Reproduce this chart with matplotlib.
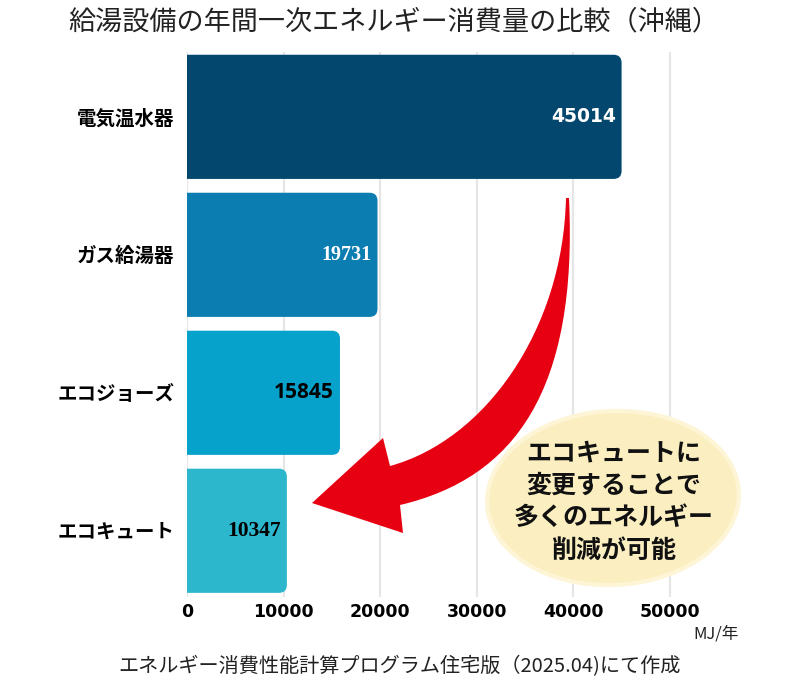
import matplotlib
matplotlib.use("Agg")
import matplotlib.pyplot as plt
from matplotlib.patches import FancyBboxPatch, Ellipse, PathPatch
from matplotlib.path import Path

plt.rcParams['font.family'] = ['Noto Sans CJK JP', 'DejaVu Sans']

categories = ["電気温水器", "ガス給湯器", "エコジョーズ", "エコキュート"]
values = [45014, 19731, 15845, 10347]
colors = ["#03476f", "#0b7db1", "#07a2cb", "#2db7cd"]
label_colors = ["white", "white", "black", "black"]
label_fonts = ["DejaVu Sans", "Liberation Serif", "Open Sans", "Liberation Serif"]
label_sizes = [13.5, 14.5, 15, 15.5]
xticks = [0, 10000, 20000, 30000, 40000, 50000]
title = "給湯設備の年間一次エネルギー消費量の比較（沖縄）"
footer = "エネルギー消費性能計算プログラム住宅版（2025.04)にて作成"
unit = "MJ/年"
callout = "エコキュートに\n変更することで\n多くのエネルギー\n削減が可能"

W, H = 800, 689
fig = plt.figure(figsize=(W / 100, H / 100), dpi=100)
fig.patch.set_facecolor("white")

ax_l, ax_r, ax_t, ax_b = 187, 718, 52, 597
ax = fig.add_axes([ax_l / W, 1 - ax_b / H, (ax_r - ax_l) / W, (ax_b - ax_t) / H])
xmax = 55000
ax.set_xlim(0, xmax)
ax.set_ylim(3.48, -0.47)
for s in ax.spines.values():
    s.set_visible(False)
ax.set_xticks(xticks)
ax.set_xticklabels([str(t) for t in xticks], fontsize=12.5, fontweight="bold",
                   family="DejaVu Sans")
ax.set_yticks(range(len(categories)))
ax.set_yticklabels(categories, fontsize=14, fontweight="bold")
ax.tick_params(axis="both", length=0)
ax.tick_params(axis="x", pad=4)
ax.tick_params(axis="y", pad=9)
ax.grid(axis="x", color="#e6e6e6", linewidth=1.6)
ax.set_axisbelow(True)

px_x = xmax / (ax_r - ax_l)          # data per pixel in x
px_y = (3.48 + 0.47) / (ax_b - ax_t)  # data per pixel in y
r = 8 * px_x
bh = 0.9
for i, (v, c) in enumerate(zip(values, colors)):
    p = FancyBboxPatch((-3 * r, i - bh / 2), v + 3 * r, bh,
                       boxstyle=f"round,pad=0,rounding_size={r}",
                       mutation_aspect=px_y / px_x,
                       facecolor=c, edgecolor="none", zorder=3)
    ax.add_patch(p)
    ax.text(v - 6 * px_x, i, str(v), ha="right", va="center",
            color=label_colors[i], fontsize=label_sizes[i], fontweight="bold",
            family=label_fonts[i], zorder=4)

ax.text(1.04, -0.052, unit, transform=ax.transAxes, ha="right", va="top",
        fontsize=12, color="#222222")

# overlay in pixel coordinates
ov = fig.add_axes([0, 0, 1, 1])
ov.set_xlim(0, W)
ov.set_ylim(H, 0)
ov.axis("off")
ov.patch.set_alpha(0)

# callout ellipse
ov.add_patch(Ellipse((613, 498), 252, 174, angle=-3, facecolor="#fbefc2",
                     edgecolor="#fdf5d6", linewidth=3, zorder=2))
ov.text(614, 502, callout, ha="center", va="center", fontsize=18,
        fontweight="bold", linespacing=1.45, color="#111111", zorder=3)

# red curved arrow
verts = [
    (569, 198),
    (578, 390), (515, 478), (400, 505),   # outer edge
    (403, 533),                            # lower barb
    (312, 503),                            # tip
    (383, 438),                            # upper barb
    (390, 466),
    (485, 440), (563, 330), (566, 198),   # inner edge
    (569, 198),
]
codes = [Path.MOVETO,
         Path.CURVE4, Path.CURVE4, Path.CURVE4,
         Path.LINETO, Path.LINETO, Path.LINETO, Path.LINETO,
         Path.CURVE4, Path.CURVE4, Path.CURVE4,
         Path.CLOSEPOLY]
ov.add_patch(PathPatch(Path(verts, codes), facecolor="#e60012",
                       edgecolor="none", zorder=4))

fig.text(394 / W, 1 - 22 / H, title, ha="center", va="center", fontsize=19.5,
         color="#222222")
fig.text(400 / W, 1 - 667 / H, footer, ha="center", va="center", fontsize=14.5,
         color="#222222")

fig.savefig("out.png", dpi=100)
